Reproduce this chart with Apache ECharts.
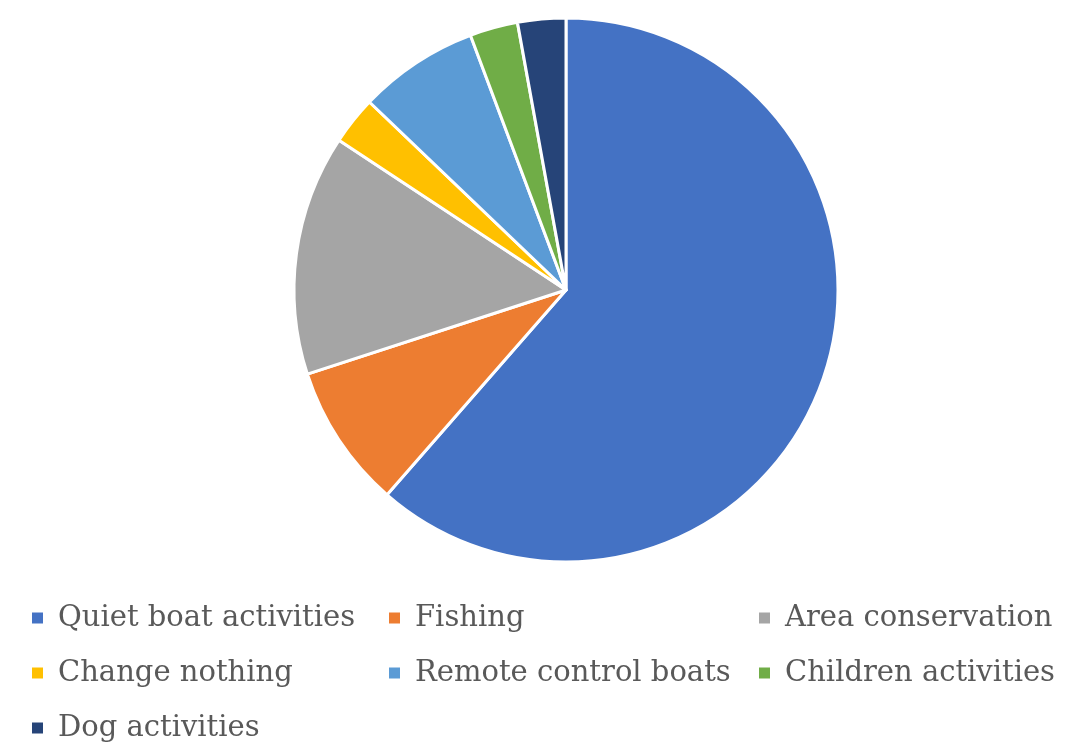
<!DOCTYPE html>
<html><head><meta charset="utf-8">
<script src="https://cdn.jsdelivr.net/npm/echarts@6/dist/echarts.min.js"></script>
<style>html,body{margin:0;padding:0;background:#fff}#c{width:1072px;height:747px}</style>
</head><body><div id="c"></div>
<script>
const categories = ["Quiet boat activities","Fishing","Area conservation","Change nothing","Remote control boats","Children activities","Dog activities"];
const values = [43, 6, 10, 2, 5, 2, 2];
const colors = ["#4472C4","#ED7D31","#A5A5A5","#FFC000","#5B9BD5","#70AD47","#264478"];
const col1 = ["Quiet boat activities","Change nothing","Dog activities"];
const col2 = ["Fishing","Remote control boats"];
const col3 = ["Area conservation","Children activities"];

const chart = echarts.init(document.getElementById('c'));
const legendBase = {
  orient: 'vertical', top: 602, height: 170, padding: 0, itemGap: 23, itemWidth: 13, itemHeight: 13, icon: 'rect',
  textStyle: {fontFamily: 'DejaVu Serif', fontSize: 29, lineHeight: 32, color: '#595959', padding: [0,0,0,9]},
  selectedMode: false
};
chart.setOption({
  color: colors,
  animation: false,
  legend: [
    Object.assign({}, legendBase, {left: 30, data: col1}),
    Object.assign({}, legendBase, {left: 387, data: col2}),
    Object.assign({}, legendBase, {left: 757, data: col3})
  ],
  series: [{
    type: 'pie',
    center: [566, 290],
    radius: 272,
    startAngle: 90,
    clockwise: true,
    label: {show: false},
    labelLine: {show: false},
    itemStyle: {borderColor: '#fff', borderWidth: 3},
    emphasis: {disabled: true},
    data: categories.map((n, i) => ({name: n, value: values[i]}))
  }]
});
</script></body></html>
